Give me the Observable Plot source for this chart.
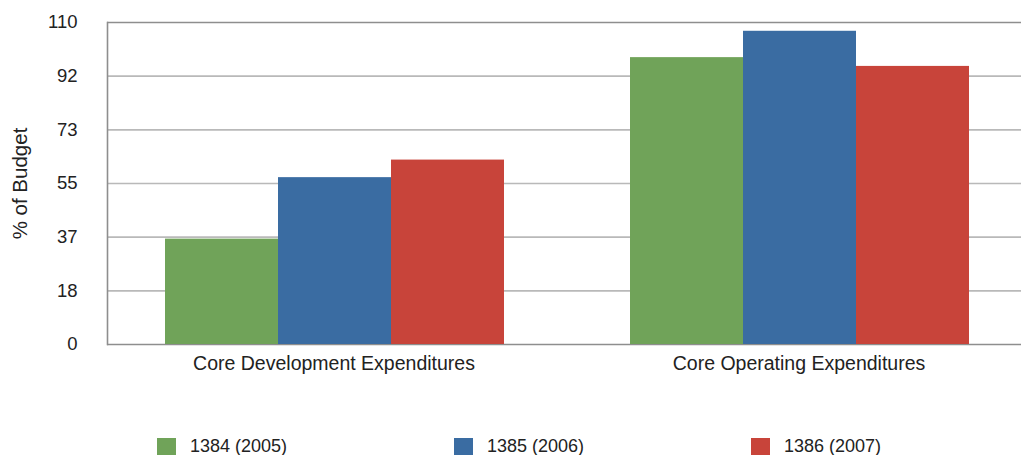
<!DOCTYPE html>
<html>
<head>
<meta charset="utf-8">
<script src="https://cdn.jsdelivr.net/npm/d3@7"></script>
<script src="https://cdn.jsdelivr.net/npm/@observablehq/plot@0.6"></script>
<style>
  html, body { margin: 0; padding: 0; background: #fff; overflow: hidden; }
  #chart { width: 1037px; }
  #chart > svg { display: block; max-width: none !important; width: 1037px; height: 428px; }
  .lg-swatches { margin-left: 157px !important; height: 36px !important; min-height: 36px !important;
    font: 18px "Liberation Sans", Arial, sans-serif !important; color: #222 !important; flex-wrap: nowrap !important; }
  .lg-swatch { width: 297px !important; margin-right: 0 !important; flex: none !important; }
  .lg-swatch > svg { margin-right: 14px !important; }
</style>
</head>
<body>
<div id="chart"></div>
<script>
const categories = ["Core Development Expenditures", "Core Operating Expenditures"];
const years = ["1384 (2005)", "1385 (2006)", "1386 (2007)"];
const developmentValues = [36, 57, 63];
const operatingValues = [98, 107, 95];
const yTickValues = [0, 18.33, 36.67, 55, 73.33, 91.67, 110];
const yTickLabels = ["0", "18", "37", "55", "73", "92", "110"];
const colors = ["#70a359", "#3a6ca2", "#c8443a"];

const data = [];
[developmentValues, operatingValues].forEach((vals, ci) => {
  vals.forEach((v, yi) => data.push({category: categories[ci], year: years[yi], value: v}));
});

const chart = Plot.plot({
  width: 1037,
  height: 428,
  marginLeft: 106,
  marginRight: 0,
  marginTop: 22,
  marginBottom: 84,
  style: {fontFamily: "'Liberation Sans', Arial, sans-serif", fontSize: "18px", color: "#222", background: "#fff", overflow: "visible", maxWidth: "none"},
  fx: {domain: categories, paddingInner: 0, paddingOuter: 0, axis: null},
  x: {domain: years, paddingInner: 0, paddingOuter: 0.555, align: 0.46, axis: null},
  y: {domain: [0, 110], axis: null},
  color: {domain: years, range: colors},
  marks: [
    Plot.ruleY(yTickValues.slice(1, -1), {stroke: "#b9b9b9", strokeWidth: 1.6}),
    Plot.ruleY([0, 110], {stroke: "#8e8e8e", strokeWidth: 1.6}),
    Plot.barY(data, {fx: "category", x: "year", y: "value", fill: "year"}),
    Plot.frame({anchor: "left", facetAnchor: "left", stroke: "#8e8e8e", strokeWidth: 1.6}),
    Plot.axisY({
      ticks: yTickValues,
      tickFormat: (d) => yTickLabels[yTickValues.indexOf(d)],
      tickSize: 0, tickPadding: 30, fontSize: 18.5, color: "#222",
      label: null
    }),
    Plot.axisY({
      ticks: [], tickSize: 0, fontSize: 20.5, color: "#222",
      label: "% of Budget", labelArrow: "none", labelAnchor: "center", labelOffset: 95
    }),
    Plot.axisFx({anchor: "bottom", tickSize: 0, tickPadding: 12, fontSize: 19.5, label: null, color: "#222", dx: -6})
  ]
});
document.getElementById("chart").appendChild(chart);

const legend = Plot.legend({
  color: {type: "ordinal", domain: years, range: colors},
  legend: "swatches",
  swatchWidth: 19,
  swatchHeight: 17,
  className: "lg"
});
document.getElementById("chart").appendChild(legend);
</script>
</body>
</html>
